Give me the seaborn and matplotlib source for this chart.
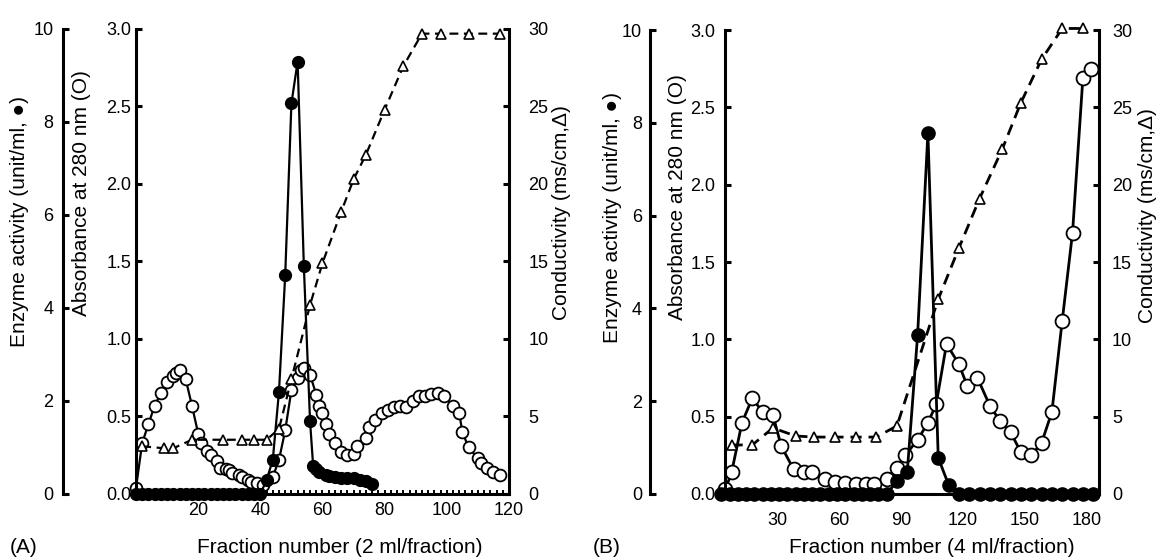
import matplotlib
matplotlib.use("Agg")
import matplotlib.pyplot as plt
from matplotlib.ticker import MultipleLocator
import seaborn as sns

sns.set_style("ticks")
plt.rcParams['font.family'] = ['Liberation Sans', 'DejaVu Sans']
plt.rcParams.update({'text.color': 'black', 'axes.labelcolor': 'black',
                     'xtick.color': 'black', 'ytick.color': 'black',
                     'axes.edgecolor': 'black'})

# ---- panel A (2 ml/fraction) ----
abs_a_frac = [0, 2, 4, 6, 8, 10, 12, 13, 14, 16, 18, 20, 21, 23, 24, 26, 27, 29, 30, 31,
              33, 34, 36, 37, 39, 41, 44, 46, 48, 50, 52, 53, 54, 56, 58, 59, 60, 61, 62,
              64, 66, 68, 70, 71, 74, 75, 77, 79, 81, 83, 85, 87, 89, 91, 93, 95, 97, 99,
              102, 104, 105, 107, 110, 111, 113, 115, 117]
abs_a = [0.04, 0.33, 0.45, 0.57, 0.65, 0.72, 0.76, 0.78, 0.80, 0.74, 0.57, 0.39, 0.33, 0.28,
         0.25, 0.21, 0.17, 0.16, 0.155, 0.135, 0.12, 0.11, 0.09, 0.08, 0.07, 0.06, 0.11, 0.22,
         0.41, 0.67, 0.75, 0.80, 0.81, 0.77, 0.64, 0.57, 0.52, 0.45, 0.39, 0.33, 0.27, 0.25,
         0.26, 0.31, 0.36, 0.43, 0.48, 0.52, 0.54, 0.56, 0.57, 0.56, 0.60, 0.63, 0.63, 0.645,
         0.65, 0.63, 0.57, 0.52, 0.40, 0.30, 0.23, 0.20, 0.17, 0.14, 0.12]

enz_a_frac = [0, 2, 4, 6, 8, 10, 12, 14, 16, 18, 20, 22, 24, 26, 28, 30, 32, 34, 36, 38, 40,
              42, 44, 46, 48, 50, 52, 54, 56, 57, 58, 59, 61, 62, 64, 66, 68, 70, 72, 74, 76]
enz_a = [0] * 21 + [0.3, 0.73, 2.2, 4.7, 8.4, 9.3, 4.9, 1.56, 0.6, 0.53, 0.47, 0.4, 0.38,
                    0.36, 0.35, 0.34, 0.34, 0.3, 0.28, 0.21]

cond_a_frac = [2, 9, 12, 18, 28, 34, 38, 42, 46, 50, 56, 60, 66, 70, 74, 80, 86, 92, 98, 107, 117]
cond_a = [3.08, 2.95, 2.95, 3.5, 3.5, 3.5, 3.5, 3.5, 4.2, 7.4, 12.2, 14.9, 18.2, 20.3, 21.9,
          24.8, 27.6, 29.7, 29.7, 29.7, 29.7]

# ---- panel B (4 ml/fraction) ----
abs_b_frac = [5, 8, 13, 18, 23, 28, 32, 38, 43, 47, 53, 58, 63, 68, 73, 77, 83, 88, 92, 98,
              103, 107, 112, 118, 122, 127, 133, 138, 143, 148, 153, 158, 163, 168, 173, 178, 182]
abs_b = [0.03, 0.14, 0.46, 0.62, 0.53, 0.51, 0.31, 0.16, 0.14, 0.14, 0.10, 0.08, 0.07, 0.065,
         0.065, 0.065, 0.10, 0.17, 0.25, 0.35, 0.46, 0.58, 0.97, 0.84, 0.70, 0.75, 0.57, 0.47,
         0.40, 0.27, 0.25, 0.33, 0.53, 1.12, 1.69, 2.69, 2.75]

enz_b_frac = [3, 7, 11, 15, 19, 23, 27, 31, 35, 39, 43, 47, 51, 55, 59, 63, 67, 71, 75, 79, 83,
              88, 93, 98, 103, 108, 113, 118, 123, 128, 133, 138, 143, 148, 153, 158, 163, 168,
              173, 178, 183]
enz_b = [0] * 21 + [0.27, 0.47, 3.42, 7.78, 0.78, 0.2] + [0] * 14

cond_b_frac = [8, 18, 28, 39, 48, 58, 68, 78, 88, 108, 118, 128, 139, 148, 158, 168, 178]
cond_b = [3.17, 3.17, 4.27, 3.75, 3.68, 3.68, 3.68, 3.68, 4.4, 12.6, 15.9, 19.1, 22.3, 25.3,
          28.1, 30.1, 30.1]

fig = plt.figure(figsize=(11.6, 5.58), dpi=100)
FS_TICK = 13
FS_LAB = 15
SPW = 2.2


def panel(rect, xlim, xticks, enz_off, pads, labx, laby, xlab, xlab_x, tag, tag_x,
          absd, enzd, condd, ms, lw, minor):
    ax = fig.add_axes(rect)
    ax_e = ax.twinx()
    ax_c = ax.twinx()

    sns.lineplot(x=absd[0], y=absd[1], ax=ax, color='black', lw=lw, marker='o',
                 markersize=ms[0], markerfacecolor='white', markeredgecolor='black',
                 markeredgewidth=1.3, clip_on=False, sort=False, estimator=None)
    sns.lineplot(x=condd[0], y=condd[1], ax=ax_c, color='black', lw=lw,
                 linestyle=(0, (4, 2.5)), marker='^', markersize=ms[2],
                 markerfacecolor='white', markeredgecolor='black', markeredgewidth=1.2,
                 clip_on=False, sort=False, estimator=None)
    sns.lineplot(x=enzd[0], y=enzd[1], ax=ax_e, color='black', lw=lw, marker='o',
                 markersize=ms[1], markerfacecolor='black', markeredgecolor='black',
                 markeredgewidth=1.0, clip_on=False, sort=False, estimator=None)

    for a in (ax, ax_e, ax_c):
        a.set_xlim(*xlim)
        a.patch.set_visible(False)
        for s in a.spines.values():
            s.set_linewidth(SPW)
            s.set_visible(False)
        a.tick_params(direction='in', width=SPW, length=4, labelsize=FS_TICK)

    ax.set_ylim(0, 3.0)
    ax_e.set_ylim(0, 10)
    ax_c.set_ylim(0, 30)

    ax.spines['left'].set_visible(True)
    ax.spines['bottom'].set_visible(True)
    ax.yaxis.tick_left()
    ax.set_yticks([0, 0.5, 1.0, 1.5, 2.0, 2.5, 3.0])
    ax.set_yticklabels(['0.0', '0.5', '1.0', '1.5', '2.0', '2.5', '3.0'])
    ax.tick_params(axis='y', pad=pads[1])
    ax.set_xticks(xticks)
    if minor:
        ax.xaxis.set_minor_locator(MultipleLocator(2))
        ax.tick_params(axis='x', which='both', direction='in', length=3, width=1.4,
                       pad=pads[3])
    else:
        ax.tick_params(axis='x', length=0, pad=pads[3])

    ax_e.spines['left'].set_visible(True)
    ax_e.spines['left'].set_position(('axes', enz_off))
    ax_e.yaxis.tick_left()
    ax_e.yaxis.set_label_position('left')
    ax_e.set_yticks([0, 2, 4, 6, 8, 10])
    ax_e.tick_params(axis='y', pad=pads[0])

    ax_c.spines['right'].set_visible(True)
    ax_c.yaxis.tick_right()
    ax_c.set_yticks([0, 5, 10, 15, 20, 25, 30])
    ax_c.tick_params(axis='y', pad=pads[2])

    labels = ['Enzyme activity (unit/ml, \u25cf)', 'Absorbance at 280 nm (O)',
              'Conductivity (ms/cm,\u0394)']
    for a, t, lx, ly in zip((ax_e, ax, ax_c), labels, labx, laby):
        a.set_ylabel(t, fontsize=FS_LAB, rotation=90)
        a.yaxis.set_label_coords(lx, ly)
        a.yaxis.label.set_verticalalignment('center')
        a.yaxis.label.set_horizontalalignment('center')

    ax.set_xlabel(xlab, fontsize=FS_LAB)
    ax.xaxis.set_label_coords(xlab_x, -0.116)
    ax.xaxis.label.set_verticalalignment('center')
    ax.text(tag_x, -0.116, tag, transform=ax.transAxes, fontsize=FS_LAB,
            ha='center', va='center')
    return ax


panel([0.11724, 0.11470, 0.32155, 0.83333], (0, 120), [20, 40, 60, 80, 100, 120],
      -73 / 373, (7, 3.5, 14, 6), (-0.311, -0.145, 1.142), (0.587, 0.647, 0.606),
      'Fraction number (2 ml/fraction)', 0.547, '(A)', (24 - 136) / 373,
      (abs_a_frac, abs_a), (enz_a_frac, enz_a), (cond_a_frac, cond_a),
      (8.5, 8.5, 7), 1.6, True)

panel([0.625, 0.11470, 0.32241, 0.8315], (4.8, 185.8), [30, 60, 90, 120, 150, 180],
      -75 / 374, (5.8, 7, 9.4, 13), (-0.30, -0.128, 1.131), (0.595, 0.64, 0.60),
      'Fraction number (4 ml/fraction)', 0.553, '(B)', (607 - 725) / 374,
      (abs_b_frac, abs_b), (enz_b_frac, enz_b), (cond_b_frac, cond_b),
      (10, 9.5, 7.5), 2.0, False)

fig.savefig('out.png', dpi=100)
